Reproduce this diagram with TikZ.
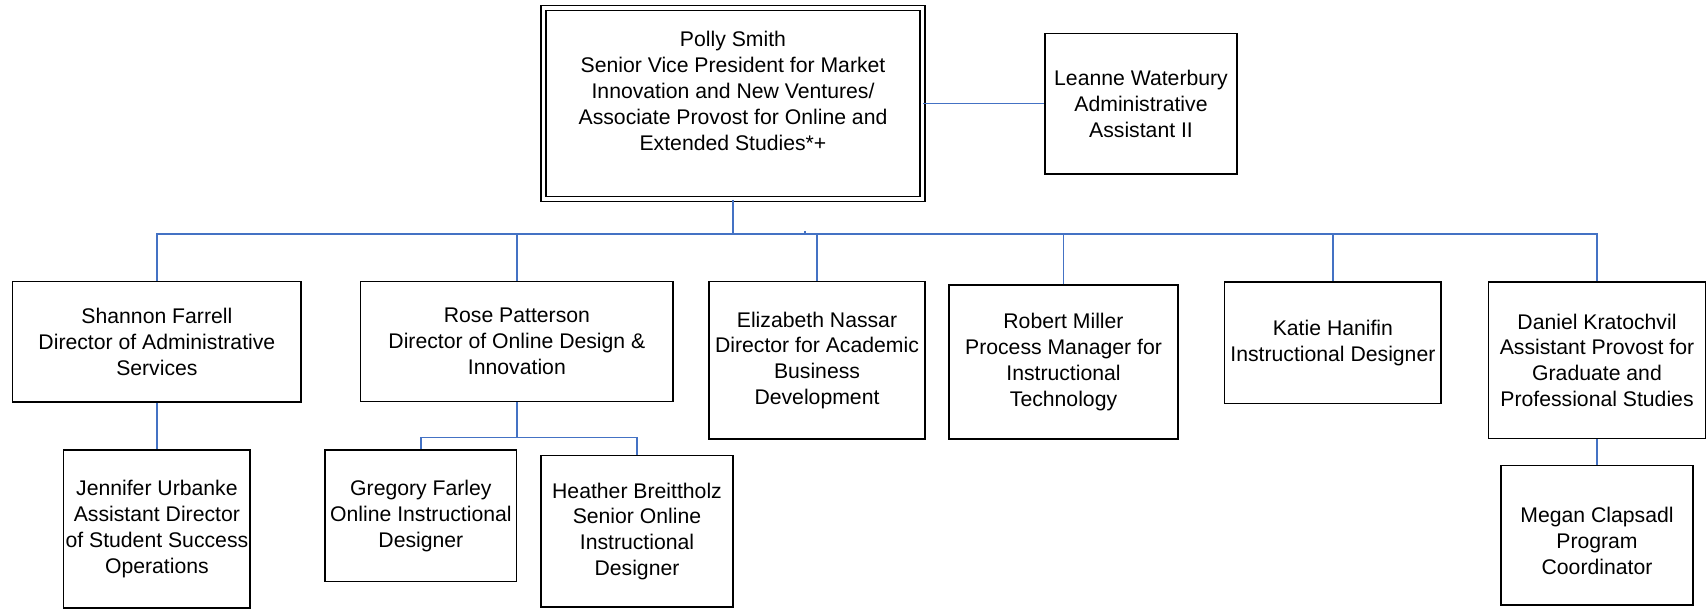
\documentclass[tikz,border=0pt]{standalone}
\usepackage{fontspec}
\setmainfont{Liberation Sans}
\usepackage{tikz}
\definecolor{linkblue}{HTML}{4472C4}

\begin{document}
\begin{tikzpicture}[x=0.5pt,y=-0.5pt,
  box/.style={draw,line width=0.75pt,inner sep=0pt,align=center,
    font=\fontsize{10.6}{12.9}\selectfont},
  link/.style={draw=linkblue,line width=0.6pt}]
  \useasboundingbox (0,0) rectangle (1707,609);
  % head of the unit, double frame
  \node[box,double,double distance=1.75pt,minimum width=189.5pt,minimum height=95.5pt]
    (polly) at (733,103.7) {Polly Smith\\Senior Vice President for Market\\Innovation and New Ventures/\\Associate Provost for Online and\\Extended Studies*+\\ \mbox{}};
  \node[box,minimum width=96pt,minimum height=70.3pt] (leanne) at (1141,103.7)
    {Leanne Waterbury\\Administrative\\Assistant II};
  % second row
  \node[box,minimum width=144.2pt,minimum height=60.2pt] (shannon) at (156.9,341.9)
    {Shannon Farrell\\Director of Administrative\\Services};
  \node[box,minimum width=156.2pt,minimum height=60pt] (rose) at (516.9,341.6)
    {Rose Patterson\\Director of Online Design \&\\Innovation};
  \node[box,minimum width=108pt,minimum height=78.7pt] (elizabeth) at (817,360.4)
    {Elizabeth Nassar\\Director for Academic\\Business\\Development};
  \node[box,minimum width=114.5pt,minimum height=77pt] (robert) at (1063.5,362)
    {Robert Miller\\Process Manager for\\Instructional\\Technology};
  \node[box,minimum width=108.2pt,minimum height=60.8pt] (katie) at (1332.9,342.7)
    {Katie Hanifin\\Instructional Designer};
  \node[box,minimum width=108.7pt,minimum height=78.3pt] (daniel) at (1597,360.3)
    {Daniel Kratochvil\\Assistant Provost for\\Graduate and\\Professional Studies};
  % third row
  \node[box,minimum width=93.2pt,minimum height=79pt] (jennifer) at (156.9,529)
    {Jennifer Urbanke\\Assistant Director\\of Student Success\\Operations};
  \node[box,minimum width=95.8pt,minimum height=65.8pt] (gregory) at (420.9,515.8)
    {Gregory Farley\\Online Instructional\\Designer};
  \node[box,minimum width=96pt,minimum height=75.7pt] (heather) at (637,531.4)
    {Heather Breittholz\\Senior Online\\Instructional\\Designer};
  \node[box,minimum width=96.2pt,minimum height=69.7pt] (megan) at (1597,535.4)
    {\mbox{}\\Megan Clapsadl\\Program\\Coordinator};
  % connectors
  \coordinate (bus) at (733,234);
  \coordinate (tick) at (805,231);
  \coordinate (sub) at (516.9,437.8);
  \draw[link] (polly.east) -- (leanne.west);
  \draw[link] (polly.south) -- (bus);
  \draw[link] (shannon.north) |- (bus -| daniel.north) -- (daniel.north);
  \foreach \n in {rose,elizabeth,robert,katie}
    \draw[link] (\n.north) -- (\n.north |- bus);
  \draw[link] (tick) -- (tick |- bus);
  \draw[link] (shannon.south) -- (jennifer.north);
  \draw[link] (rose.south) -- (sub);
  \draw[link] (gregory.north) |- (sub) -| (heather.north);
  \draw[link] (daniel.south) -- (megan.north);
\end{tikzpicture}
\end{document}
